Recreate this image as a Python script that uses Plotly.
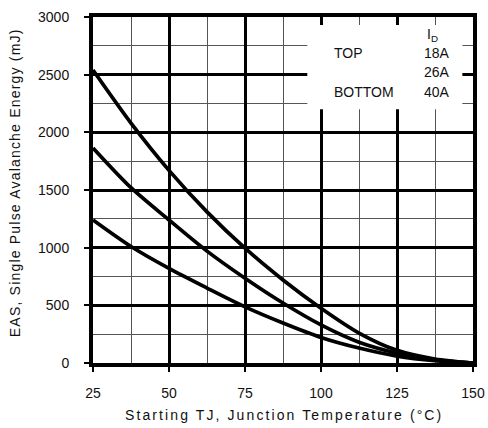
import plotly.graph_objects as go

temps = [25, 37.5, 50, 62.5, 75, 87.5, 100, 112.5, 125, 137.5, 150]
eas_18a = [2540, 2080, 1670, 1310, 995, 720, 475, 260, 110, 35, 0]
eas_26a = [1865, 1520, 1240, 970, 735, 520, 330, 180, 85, 25, 0]
eas_40a = [1240, 1010, 820, 650, 487, 347, 222, 130, 60, 20, 0]
series_names = ["18A", "26A", "40A"]
legend_header = "I<sub>D</sub>"
legend_rows = ["TOP", "", "BOTTOM"]
x_title = "Starting TJ, Junction Temperature (°C)"
y_title = "EAS, Single Pulse Avalanche Energy (mJ)"

fig = go.Figure()
for name, vals in zip(series_names, [eas_18a, eas_26a, eas_40a]):
    fig.add_trace(go.Scatter(x=temps, y=vals, mode="lines", name=name,
                             line=dict(color="black", width=3.7, shape="spline", smoothing=0.8),
                             showlegend=False))

font = dict(family="Liberation Sans, Arial, sans-serif", size=14, color="#111")

fig.update_layout(
    width=488, height=428,
    margin=dict(l=93, r=15, t=17, b=65),
    paper_bgcolor="white", plot_bgcolor="white",
    font=font,
    xaxis=dict(range=[25, 150], dtick=25, tick0=25, automargin=False,
               showgrid=True, gridcolor="black", gridwidth=2.5,
               minor=dict(dtick=12.5, tick0=25, showgrid=True, gridcolor="#555", gridwidth=1.2),
               showline=True, linecolor="black", linewidth=4, mirror=True,
               ticks="outside", ticklen=5, tickcolor="black", tickwidth=1.5,
               ticklabelstandoff=9, ticklabeloverflow="allow", zeroline=False, tickfont=font),
    yaxis=dict(range=[0, 3000], dtick=500, automargin=False,
               showgrid=True, gridcolor="black", gridwidth=2.5,
               minor=dict(dtick=250, showgrid=True, gridcolor="#555", gridwidth=1.2),
               showline=True, linecolor="black", linewidth=4, mirror=True,
               ticks="outside", ticklen=5, tickcolor="black", tickwidth=1.5,
               ticklabelstandoff=12, ticklabeloverflow="allow", zeroline=False, tickfont=font),
)

# axis titles
fig.add_annotation(text='<span style="letter-spacing:2.1px">' + x_title + '</span>',
                   xref="paper", yref="paper",
                   x=0.503, y=-0.150, showarrow=False, font=font,
                   xanchor="center", yanchor="middle")
fig.add_annotation(text='<span style="letter-spacing:1.2px">' + y_title + '</span>',
                   xref="paper", yref="paper",
                   x=-0.205, y=0.52, showarrow=False, font=font, textangle=-90,
                   xanchor="center", yanchor="middle")

# legend box
fig.add_shape(type="rect", xref="x", yref="y", x0=95.5, x1=146.5, y0=2200, y1=2930,
              fillcolor="white", line=dict(width=0), layer="above")

fig.add_annotation(x=136.8, y=2845, text=legend_header, showarrow=False, xref="x", yref="y",
                   font=font, xanchor="center")
row_y = [2689, 2524, 2350]
for lab, name, yy in zip(legend_rows, series_names, row_y):
    if lab:
        fig.add_annotation(x=103.6, y=yy, text=lab, showarrow=False, xref="x", yref="y",
                           font=font, xanchor="left")
    fig.add_annotation(x=143.1, y=yy, text=name, showarrow=False, xref="x", yref="y",
                       font=font, xanchor="right")

fig.write_html("out.html", config={"displayModeBar": False},
               post_script="document.body.style.margin='0';")
